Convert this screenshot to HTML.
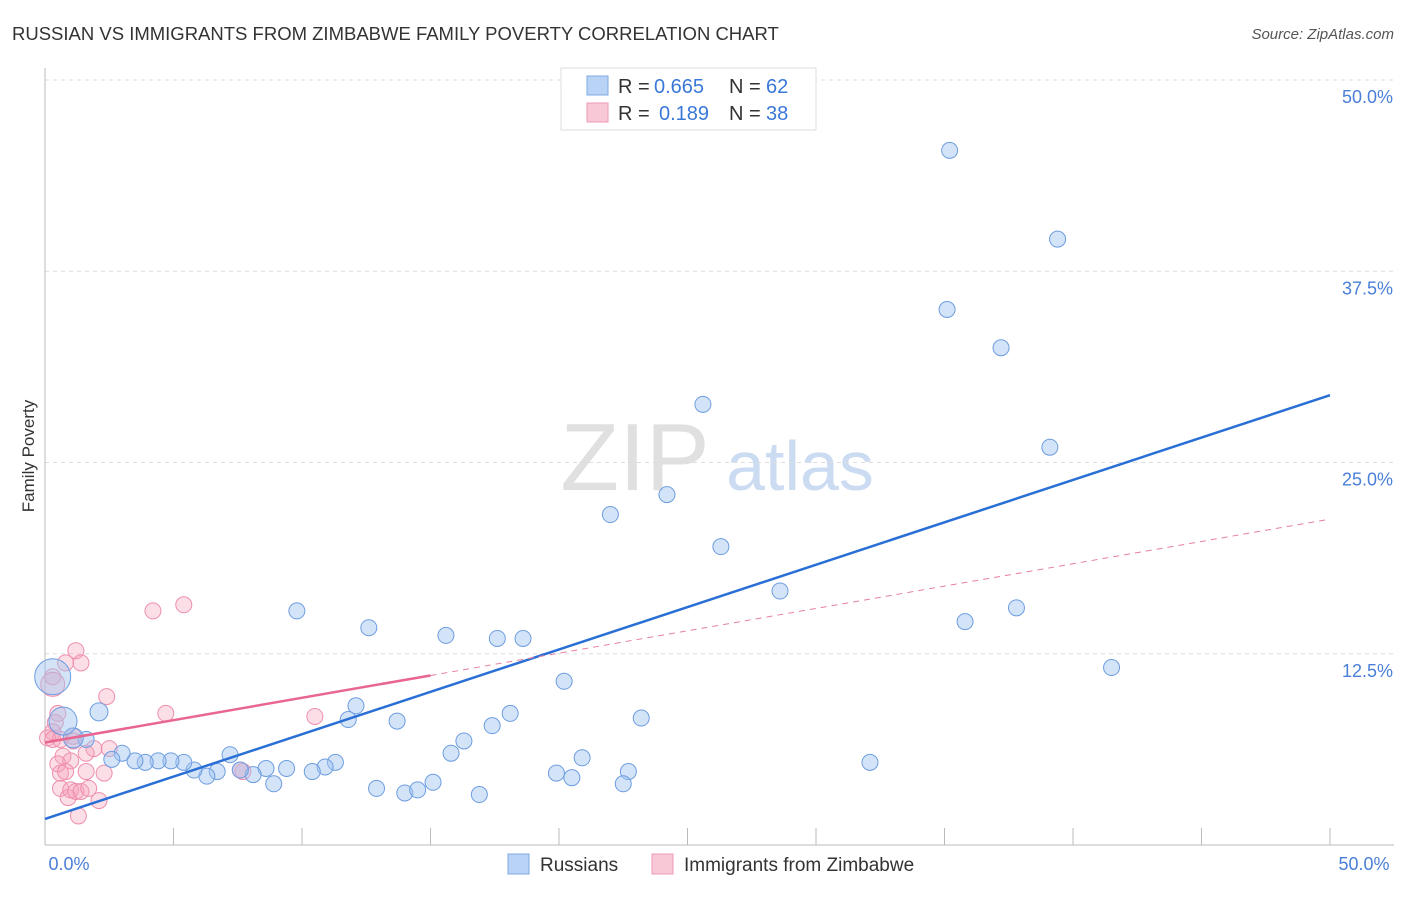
<!DOCTYPE html>
<html><head><meta charset="utf-8"><style>
body{margin:0;background:#fff;font-family:"Liberation Sans",sans-serif;}
svg text{font-family:"Liberation Sans",sans-serif;}
</style></head><body>
<svg id="chart" width="1406" height="892" xmlns="http://www.w3.org/2000/svg">
<text x="12" y="40" font-size="18.5" fill="#333">RUSSIAN VS IMMIGRANTS FROM ZIMBABWE FAMILY POVERTY CORRELATION CHART</text>
<text x="1394" y="39" font-size="15" fill="#555" text-anchor="end" font-style="italic">Source: ZipAtlas.com</text>
<text transform="translate(34,456) rotate(-90)" font-size="17" fill="#333" text-anchor="middle">Family Poverty</text>
<g opacity="0.6">
<text x="635" y="490" font-size="96" fill="#ccc" text-anchor="middle" font-family="Liberation Serif">ZIP</text>
<text x="800" y="490" font-size="70" fill="#aac4ea" text-anchor="middle">atlas</text>
</g>
<g id="grid"></g><g id="ticks"></g><g id="marks"></g>
<g>
<rect x="561" y="68" width="255" height="62" fill="#fff" stroke="#ddd"/>
<rect x="587" y="76" width="21" height="19" fill="#b8d3f5" stroke="#7fa9e0"/>
<rect x="587" y="103" width="21" height="19" fill="#f9c8d6" stroke="#ee9ab4"/>
<text x="618" y="93" font-size="20" fill="#333">R =</text>
<text x="654" y="93" font-size="20" fill="#3a78d8">0.665</text>
<text x="729" y="93" font-size="20" fill="#333">N =</text>
<text x="766" y="93" font-size="20" fill="#3a78d8">62</text>
<text x="618" y="120" font-size="20" fill="#333">R =</text>
<text x="659" y="120" font-size="20" fill="#3a78d8">0.189</text>
<text x="729" y="120" font-size="20" fill="#333">N =</text>
<text x="766" y="120" font-size="20" fill="#3a78d8">38</text>
</g>
<g>
<rect x="508" y="854" width="21" height="20" fill="#b8d3f5" stroke="#7fa9e0"/>
<text x="540" y="871" font-size="19" fill="#333">Russians</text>
<rect x="652" y="854" width="21" height="20" fill="#f9c8d6" stroke="#ee9ab4"/>
<text x="684" y="871" font-size="19" fill="#333">Immigrants from Zimbabwe</text>
</g>
</svg>
<script>
const xTicks=[0,5,10,15,20,25,30,35,40,45,50];
const yTicks=[12.5,25,37.5,50];
const yTickLabels=["12.5%","25.0%","37.5%","50.0%"];
const russiansX=[35.2,39.4,35.1,37.2,25.6,39.1,24.2,22.0,26.3,28.6,35.8,37.8,41.5,32.1,9.8,12.6,15.6,17.6,18.6,20.2,12.1,13.7,11.8,17.4,18.1,23.2,16.3,15.8,20.9,22.7,19.9,20.5,22.5,12.9,14.0,14.5,15.1,16.9,11.3,10.9,10.4,9.4,8.6,8.1,7.6,7.2,8.9,6.7,6.3,5.8,5.4,4.9,4.4,3.9,3.5,3.0,2.6,2.1,1.6,1.1,0.7,0.3];
const russiansY=[45.4,39.6,35.0,32.5,28.8,26.0,22.9,21.6,19.5,16.6,14.6,15.5,11.6,5.4,15.3,14.2,13.7,13.5,13.5,10.7,9.1,8.1,8.2,7.8,8.6,8.3,6.8,6.0,5.7,4.8,4.7,4.4,4.0,3.7,3.4,3.6,4.1,3.3,5.4,5.1,4.8,5.0,5.0,4.6,4.9,5.9,4.0,4.8,4.5,4.9,5.4,5.5,5.5,5.4,5.5,6.0,5.6,8.7,6.9,7.0,8.1,11.0];
const russiansR=[8,8,8,8,8,8,8,8,8,8,8,8,8,8,8,8,8,8,8,8,8,8,8,8,8,8,8,8,8,8,8,8,8,8,8,8,8,8,8,8,8,8,8,8,8,8,8,8,8,8,8,8,8,8,8,8,8,9,8,10,14,18];
const zimX=[4.2,5.4,1.2,0.8,1.4,0.3,0.3,2.4,4.7,10.5,0.5,0.4,0.3,0.1,0.3,0.6,1.1,1.1,2.5,1.9,0.7,1.0,1.6,0.5,0.6,0.8,1.6,2.3,0.6,0.9,1.0,1.2,1.4,1.7,2.1,1.3,7.7,7.6];
const zimY=[15.3,15.7,12.7,11.9,11.9,11.0,10.5,9.7,8.6,8.4,8.6,8.0,7.4,7.0,6.9,6.9,7.1,6.8,6.3,6.3,5.8,5.5,6.0,5.3,4.7,4.8,4.8,4.7,3.7,3.1,3.6,3.5,3.5,3.7,2.9,1.9,4.8,4.9];
const zimR=[8,8,8,8,8,8,12,8,8,8,8,8,8,8,8,8,8,8,8,8,8,8,8,8,8,8,8,8,8,8,8,8,8,8,8,8,8,8];
const blueFit=[1.7,29.4];const pinkFit=[6.7,21.3];const pinkSolidEnd=15;
const X=v=>45+v*25.7, Y=v=>845-v*15.3;
const NS="http://www.w3.org/2000/svg";
function mk(tag,attrs,parent){const e=document.createElementNS(NS,tag);for(const k in attrs)e.setAttribute(k,attrs[k]);document.getElementById(parent).appendChild(e);return e;}
yTicks.forEach((t,i)=>{
 const g=mk('line',{x1:45,x2:1394,y1:Y(t),y2:Y(t),stroke:'#ddd','stroke-dasharray':'4,4'},'grid');
 
 
 const l=mk('text',{x:1393,y:Y(t)+23,'font-size':18,fill:'#4a7fd8','text-anchor':'end'},'grid');l.textContent=yTickLabels[i];
 
 
});
mk('line',{x1:45,x2:45,y1:68,y2:845,stroke:'#bbb'},'ticks');
mk('line',{x1:45,x2:1394,y1:845,y2:845,stroke:'#bbb'},'ticks');
xTicks.forEach(t=>{const e=mk('line',{x1:X(t),x2:X(t),y1:828,y2:845,stroke:'#bbb'},'ticks');
 
 });
[[0,"0.0%",69],[50,"50.0%",1364]].forEach(([v,s,x])=>{const e=mk('text',{x:x,y:870,'font-size':18,fill:'#4a7fd8','text-anchor':'middle'},'ticks');e.textContent=s;
 
 });
zimX.forEach((v,i)=>{const c=mk('circle',{cx:X(v),cy:Y(zimY[i]),r:zimR[i],fill:'rgba(246,160,185,0.35)',stroke:'#ee8fae','stroke-width':1},'marks');
 
 });
russiansX.forEach((v,i)=>{const c=mk('circle',{cx:X(v),cy:Y(russiansY[i]),r:russiansR[i],fill:'rgba(160,196,240,0.45)',stroke:'#6d9de0','stroke-width':1},'marks');
 
 });
const pAt=x=>pinkFit[0]+(pinkFit[1]-pinkFit[0])*x/50;
const bl=mk('line',{x1:X(0),y1:Y(blueFit[0]),x2:X(50),y2:Y(blueFit[1]),stroke:'#2a6fd6','stroke-width':2.5},'marks');


const pl=mk('line',{x1:X(0),y1:Y(pAt(0)),x2:X(pinkSolidEnd),y2:Y(pAt(pinkSolidEnd)),stroke:'#e8668f','stroke-width':2.5},'marks');


const pd=mk('line',{x1:X(pinkSolidEnd),y1:Y(pAt(pinkSolidEnd)),x2:X(50),y2:Y(pAt(50)),stroke:'#e8809f','stroke-width':1,'stroke-dasharray':'6,5'},'marks');


</script>
</body></html>
